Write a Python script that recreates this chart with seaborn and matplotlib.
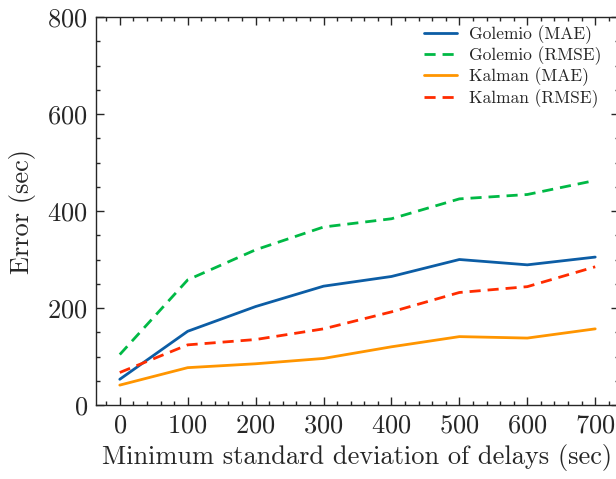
import matplotlib
matplotlib.use("Agg")
import matplotlib.pyplot as plt
import seaborn as sns
import pandas as pd
from matplotlib.ticker import MultipleLocator

x_vals = [0, 100, 200, 300, 400, 500, 600, 700]
golemio_mae = [53, 152, 203, 245, 265, 300, 289, 305]
golemio_rmse = [104, 258, 320, 367, 384, 425, 434, 463]
kalman_mae = [41, 77, 85, 96, 120, 141, 138, 157]
kalman_rmse = [67, 124, 135, 157, 192, 232, 244, 285]
series_names = ["Golemio (MAE)", "Golemio (RMSE)", "Kalman (MAE)", "Kalman (RMSE)"]

rows = []
for name, vals in zip(series_names, [golemio_mae, golemio_rmse, kalman_mae, kalman_rmse]):
    for xv, yv in zip(x_vals, vals):
        rows.append({"x": xv, "y": yv, "series": name})
df = pd.DataFrame(rows)

sns.set_style("ticks")
plt.rcParams["font.family"] = ["cmr10", "DejaVu Serif"]
plt.rcParams["mathtext.fontset"] = "cm"
plt.rcParams["axes.formatter.use_mathtext"] = True
plt.rcParams["axes.unicode_minus"] = False

fig = plt.figure(figsize=(6.16, 4.79), dpi=100)
ax = fig.add_axes([96/616, 74/479, 523/616, 388/479])

palette = {"Golemio (MAE)": "#0C5DA5", "Golemio (RMSE)": "#00B945",
           "Kalman (MAE)": "#FF9500", "Kalman (RMSE)": "#FF2C00"}
dashes = {"Golemio (MAE)": "", "Golemio (RMSE)": (4, 2.5),
          "Kalman (MAE)": "", "Kalman (RMSE)": (4, 2.5)}
sns.lineplot(data=df, x="x", y="y", hue="series", style="series",
             palette=palette, dashes=dashes, linewidth=2, ax=ax,
             hue_order=series_names, style_order=series_names)

ax.set_xlim(-35, 735)
ax.set_ylim(0, 800)
ax.xaxis.set_major_locator(MultipleLocator(100))
ax.xaxis.set_minor_locator(MultipleLocator(20))
ax.yaxis.set_major_locator(MultipleLocator(200))
ax.yaxis.set_minor_locator(MultipleLocator(50))
ax.tick_params(which="both", direction="in", top=True, right=True, width=1,
               labelsize=19, pad=6)
ax.tick_params(which="major", length=6)
ax.tick_params(which="minor", length=3)
for s in ax.spines.values():
    s.set_linewidth(1)
ax.set_xlabel("Minimum standard deviation of delays (sec)", fontsize=19, labelpad=5)
ax.set_ylabel("Error (sec)", fontsize=19, labelpad=8)

leg = ax.legend(loc="upper right", frameon=False, fontsize=12.5, handlelength=1.9,
                labelspacing=0.15, handletextpad=0.7,
                bbox_to_anchor=(0.997, 1.02))

fig.savefig("out.png", dpi=100)
